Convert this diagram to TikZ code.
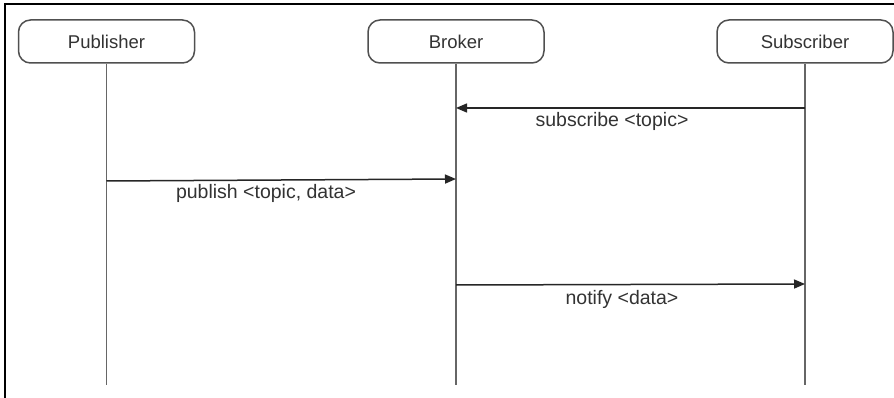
\documentclass[tikz,border=0pt]{standalone}
\usepackage{fontspec}
\setmainfont{Liberation Sans}
\usetikzlibrary{arrows.meta}
\definecolor{txtgray}{HTML}{333333}
\definecolor{linegray}{HTML}{666666}
\definecolor{boxgray}{HTML}{505050}
\tikzset{
  actor/.style={draw=boxgray, line width=1.5pt, rounded corners=12pt, minimum width=176pt, minimum height=43pt, text=txtgray, font=\fontsize{18.5}{22}\selectfont, inner sep=0pt},
  life/.style={draw=linegray, line width=1.8pt},
  msg/.style={draw=black!85, line width=1.5pt, -{Triangle[length=11pt,width=9pt]}},
  lbl/.style={text=txtgray, font=\fontsize{19.5}{23}\selectfont, inner sep=0pt},
  frame/.style={draw=black, line width=2pt}
}
\begin{document}
\begin{tikzpicture}[x=1pt,y=-1pt]
\useasboundingbox (0,0) rectangle (894,398);
\fill[white] (0,0) rectangle (894,398);
% frame
\coordinate (fTL) at (5,4.5);
\coordinate (fTR) at (894,4.5);
\coordinate (fBL) at (5,398);
\draw[frame] (fTR) -- (fTL) -- (fBL);
% actors
\node[actor] (pub) at (106.5,41.5) {Publisher};
\node[actor] (bro) at (456,41.5) {Broker};
\node[actor] (sub) at (805,41.5) {Subscriber};
% lifeline ends
\coordinate (pubE) at (106.5,385);
\coordinate (broE) at (456,385);
\coordinate (subE) at (805,385);
\draw[life] (pub.south) -- (pubE);
\draw[life] (bro.south) -- (broE);
\draw[life] (sub.south) -- (subE);
% message points
\coordinate (s1) at (805,108);
\coordinate (s2) at (456,108);
\coordinate (p1) at (106.5,181);
\coordinate (p2) at (456,179);
\coordinate (n1) at (456,285);
\coordinate (n2) at (805,284);
\draw[msg] (s1) -- (s2);
\draw[msg] (p1) -- (p2);
\draw[msg] (n1) -- (n2);
\node[lbl] (ls) at (612,121) {subscribe <topic>};
\node[lbl] (lp) at (266,193) {publish <topic, data>};
\node[lbl] (ln) at (622,299) {notify <data>};
\end{tikzpicture}
\end{document}
